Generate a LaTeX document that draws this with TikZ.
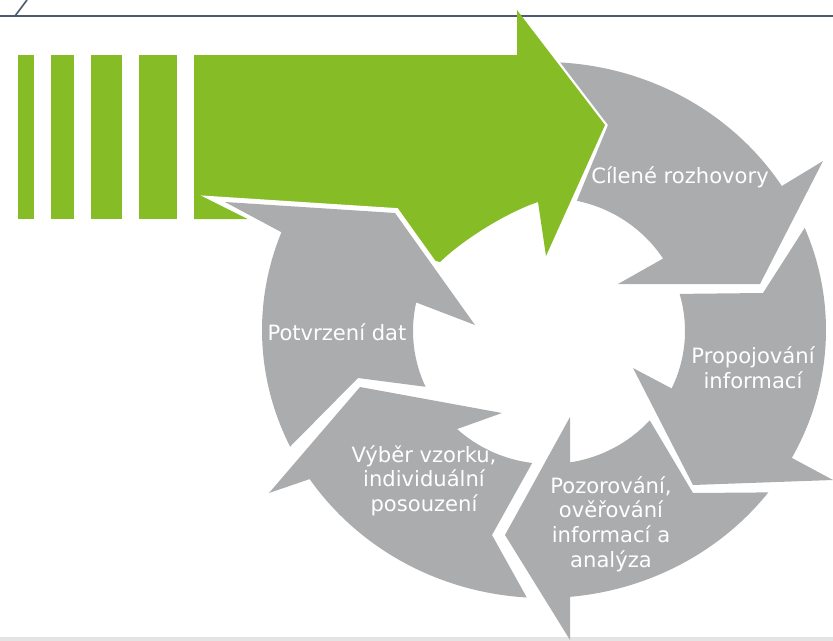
\documentclass[tikz,border=0pt]{standalone}
\usepackage{fontspec}
\setmainfont{DejaVu Sans}
\usetikzlibrary{calc}

\definecolor{dgreen}{HTML}{86BC25}
\definecolor{cyclegray}{HTML}{ABACAE}
\definecolor{rulecol}{HTML}{4B5A6E}
\definecolor{footgray}{HTML}{E4E4E4}

\tikzset{
  seg/.style={fill=cyclegray},
  orad/.style={x radius=282, y radius=268},
  irad/.style={x radius=136, y radius=133},
  lbl/.style={text=white, align=center, inner sep=0pt,
    font=\fontsize{18}{21}\selectfont},
}

\begin{document}
\begin{tikzpicture}[x=0.03cm, y=-0.03cm]
   \useasboundingbox (0,0) rectangle (833,641);
   \coordinate (C) at (544,330);   % outer ring
   \coordinate (Ci) at (549,331);  % inner hole

   % slide frame
   \fill[footgray] (0,637) rectangle (833,641);
   \draw[rulecol, line width=0.08cm] (0,16) -- (833,16);
   \draw[rulecol, line width=0.05cm] (15,16) -- (27,0);

   % green arrow
   \foreach \a/\b in {18/34, 51/74, 91/122, 139/177}
     \fill[dgreen] (\a,55) rectangle (\b,219);
   \fill[dgreen] (194,55) -- (517,55) -- (517,10) -- (605,125) -- (546,256) -- (538,202)
     .. controls (508,212) and (465,238) .. (440,262) -- (259,219) -- (194,219) -- cycle;

   % cycle segments
   \fill[seg] ($(C)+(-86.7:282 and 268)$) arc[orad, start angle=-86.7, end angle=-32.5]
     -- (823,161) -- (760,284) -- (618,284)
     -- ($(Ci)+(-33:136 and 133)$) arc[irad, start angle=-33, end angle=-78.2]
     -- (608,125) -- cycle;
   \fill[seg] ($(C)+(-22.4:282 and 268)$) arc[orad, start angle=-22.4, end angle=28.5]
     -- (833,480) -- (693,485) -- (633,368)
     -- ($(Ci)+(25.6:136 and 133)$) arc[irad, start angle=25.6, end angle=-16.2]
     -- (763,293) -- cycle;
   \fill[seg] ($(C)+(37.3:282 and 268)$) arc[orad, start angle=37.3, end angle=84.7]
     -- (570,640) -- (505,535) -- (570,417)
     -- ($(Ci)+(81.1:136 and 133)$) arc[irad, start angle=81.1, end angle=42.2]
     -- (693,493) -- cycle;
   \fill[seg] ($(C)+(93.5:282 and 268)$) arc[orad, start angle=93.5, end angle=146.2]
     -- (269,493) -- (360,387) -- (502,413)
     -- ($(Ci)+(132.5:136 and 133)$) arc[irad, start angle=132.5, end angle=97.1]
     -- (492,535) -- cycle;
   %\draw[red] (Ci) circle (3);
   \draw[white, line width=0.3cm] (287,233) -- (225,202) -- (395,213) -- (475,325);
   \fill[seg] ($(C)+(154.2:282 and 268)$) arc[orad, start angle=154.2, end angle=201.4]
     -- (225,202) -- (395,213) -- (475,325)
     -- ($(Ci)+(192.4:136 and 133)$) arc[irad, start angle=192.4, end angle=155.2]
     -- (358,378) -- cycle;

   % labels
   \node[lbl, anchor=base] (cilene) at (680,183.5) {Cílené rozhovory};
   \node[lbl] (propoj) at (753,367.5) {Propojování\\informací};
   \node[lbl] (pozor) at (611,524) {Pozorování,\\ověřování\\informací a\\analýza};
   \node[lbl] (vyber) at (424,480.5) {Výběr vzorku,\\individuální\\posouzení};
   \node[lbl, anchor=base] (potvrz) at (337,340) {Potvrzení dat};
\end{tikzpicture}
\end{document}
